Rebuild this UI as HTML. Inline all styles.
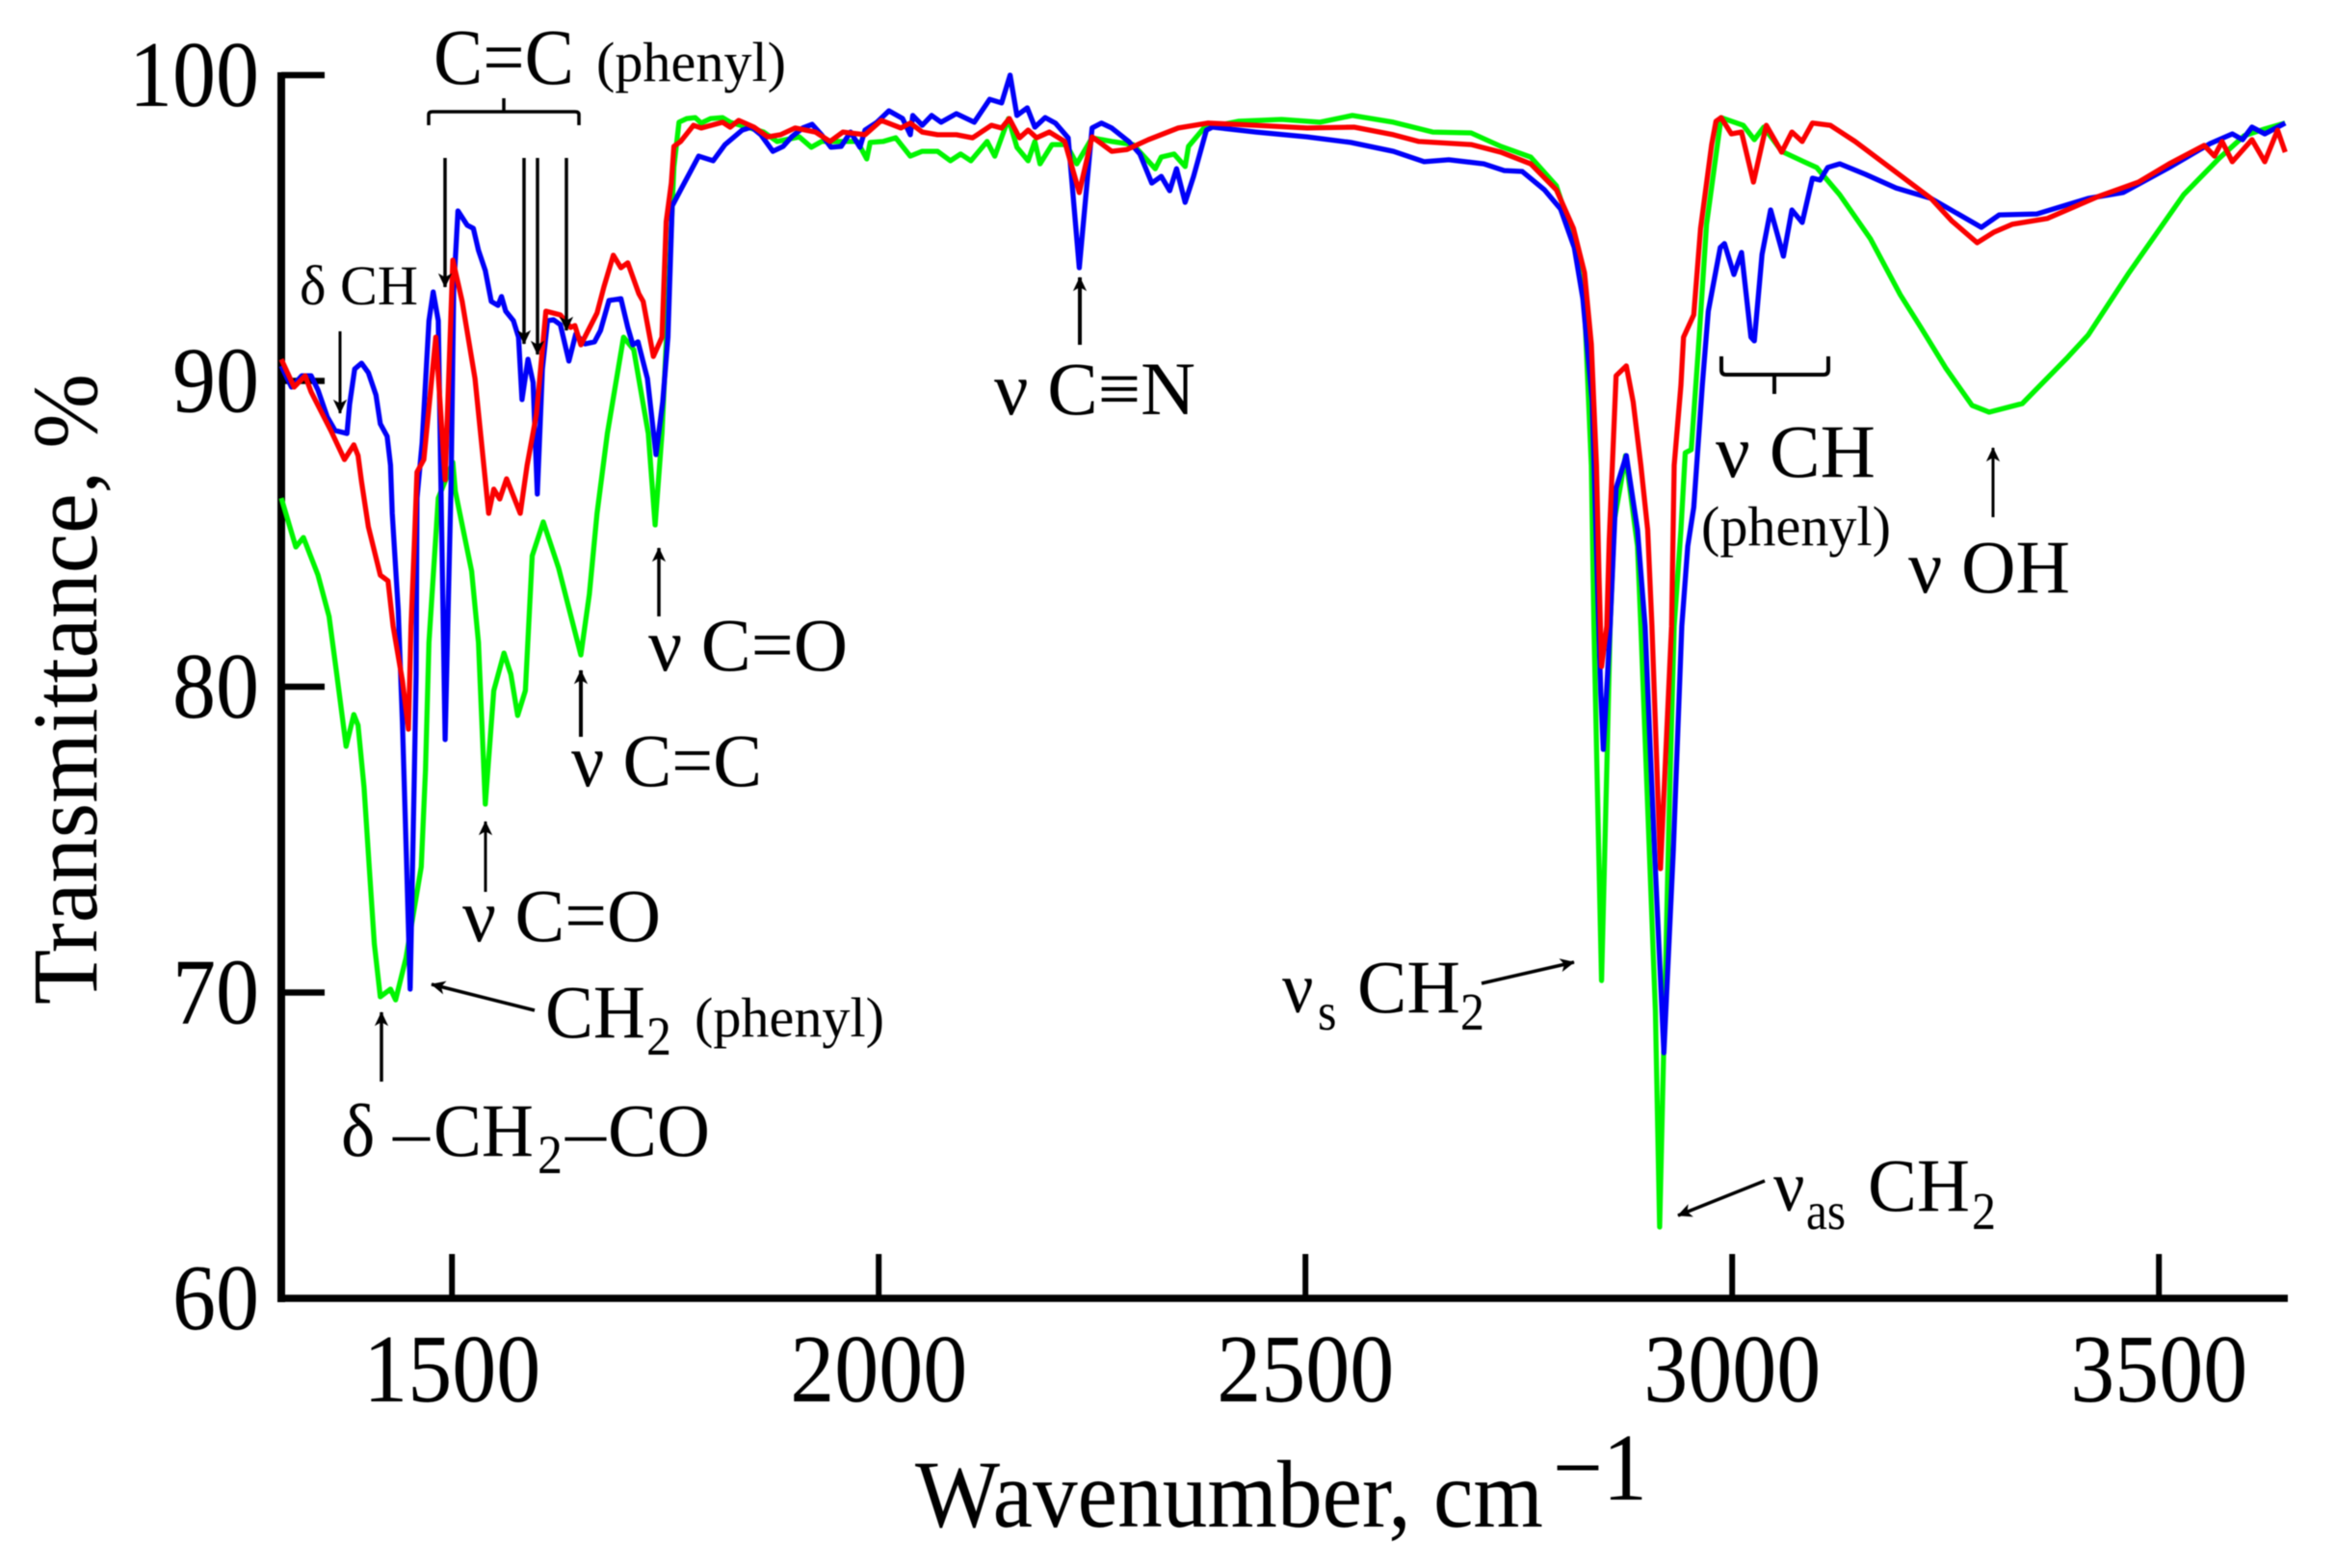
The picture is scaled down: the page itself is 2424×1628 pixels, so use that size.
<!DOCTYPE html>
<html lang="en">
<head>
<meta charset="utf-8">
<title>FTIR transmittance spectra</title>
<style>
html,body{margin:0;padding:0;background:#fff;}
body{width:2424px;height:1628px;overflow:hidden;}
svg{display:block;filter:blur(0.6px);}
text{font-family:"Liberation Serif","DejaVu Serif",serif;fill:#000;}
</style>
</head>
<body>
<svg id="chart" xmlns="http://www.w3.org/2000/svg" width="2424" height="1628" viewBox="0 0 2424 1628">
<defs>
<marker id="ah" markerUnits="userSpaceOnUse" markerWidth="19" markerHeight="19" refX="19" refY="10" orient="auto" viewBox="0 0 24 20">
<path d="M20 10 L1 1 L6 10 L1 19 Z" fill="#000"/>
</marker>
</defs>
<rect x="0" y="0" width="2424" height="1628" fill="#fff"/>
<g id="series-layer"></g>
<g id="axis-layer"></g>

<g>
<text transform="translate(100,1043) rotate(-90)" font-size="96" textLength="655" lengthAdjust="spacingAndGlyphs">Transmittance, %</text>
<text transform="translate(950,1585) scale(1,1.08)" font-size="92" textLength="652" lengthAdjust="spacingAndGlyphs">Wavenumber, cm</text>
<text transform="translate(1612,1557) scale(1,1.08)" font-size="92">&#8722;1</text>
</g>

<g stroke="none">
<text transform="translate(450,87) scale(1,1.07)" font-size="77" textLength="146" lengthAdjust="spacingAndGlyphs">C=C</text>
<text transform="translate(619,84)" font-size="58" textLength="197" lengthAdjust="spacingAndGlyphs">(phenyl)</text>
<path d="M445 130 V119 Q445 116 449 116 H597 Q601 116 601 119 V130 M523 116 V102" fill="none" stroke="#000" stroke-width="3.5"/>
<line x1="462" y1="164" x2="462" y2="298" stroke="#000" stroke-width="3.5" marker-end="url(#ah)"/>
<line x1="544" y1="164" x2="544" y2="357" stroke="#000" stroke-width="3.5" marker-end="url(#ah)"/>
<line x1="558" y1="164" x2="558" y2="368" stroke="#000" stroke-width="3.5" marker-end="url(#ah)"/>
<line x1="588" y1="164" x2="588" y2="343" stroke="#000" stroke-width="3.5" marker-end="url(#ah)"/>

<text transform="translate(311,316)" font-size="58" textLength="123" lengthAdjust="spacingAndGlyphs">&#948; CH</text>
<line x1="353" y1="344" x2="353" y2="429" stroke="#000" stroke-width="3" marker-end="url(#ah)"/>

<text transform="translate(673,696) scale(1,1.05)" font-size="75" textLength="207" lengthAdjust="spacingAndGlyphs">&#957; C=O</text>
<line x1="684" y1="640" x2="684" y2="569" stroke="#000" stroke-width="3.5" marker-end="url(#ah)"/>

<text transform="translate(593,816) scale(1,1.05)" font-size="75" textLength="198" lengthAdjust="spacingAndGlyphs">&#957; C=C</text>
<line x1="603" y1="765" x2="603" y2="696" stroke="#000" stroke-width="4" marker-end="url(#ah)"/>

<text transform="translate(480,977) scale(1,1.05)" font-size="75" textLength="206" lengthAdjust="spacingAndGlyphs">&#957; C=O</text>
<line x1="504" y1="926" x2="504" y2="853" stroke="#000" stroke-width="3" marker-end="url(#ah)"/>

<text transform="translate(566,1077) scale(1,1.05)" font-size="75" textLength="104" lengthAdjust="spacingAndGlyphs">CH</text>
<text transform="translate(671,1095) scale(1,1.1)" font-size="52">2</text>
<text transform="translate(721,1076)" font-size="58" textLength="197" lengthAdjust="spacingAndGlyphs">(phenyl)</text>
<line x1="555" y1="1049" x2="448" y2="1022" stroke="#000" stroke-width="3.5" marker-end="url(#ah)"/>

<line x1="396" y1="1123" x2="396" y2="1051" stroke="#000" stroke-width="3.5" marker-end="url(#ah)"/>
<text transform="translate(354,1200) scale(1,1.05)" font-size="75">&#948;</text>
<text transform="translate(408,1200)" font-size="75" textLength="38" lengthAdjust="spacingAndGlyphs">&#8211;</text>
<text transform="translate(450,1200) scale(1,1.05)" font-size="75" textLength="104" lengthAdjust="spacingAndGlyphs">CH</text>
<text transform="translate(558,1218) scale(1,1.1)" font-size="52">2</text>
<text transform="translate(587,1200)" font-size="75" textLength="42" lengthAdjust="spacingAndGlyphs">&#8211;</text>
<text transform="translate(631,1200) scale(1,1.05)" font-size="75" textLength="106" lengthAdjust="spacingAndGlyphs">CO</text>

<text transform="translate(1032,430) scale(1,1.05)" font-size="75" textLength="209" lengthAdjust="spacingAndGlyphs">&#957; C&#8801;N</text>
<line x1="1121" y1="358" x2="1121" y2="288" stroke="#000" stroke-width="4" marker-end="url(#ah)"/>

<path d="M1787 370 V384 Q1787 389 1792 389 H1893 Q1898 389 1898 384 V370 M1842 389 V409" fill="none" stroke="#000" stroke-width="4"/>
<text transform="translate(1781,495) scale(1,1.05)" font-size="75" textLength="166" lengthAdjust="spacingAndGlyphs">&#957; CH</text>
<text transform="translate(1766,566)" font-size="58" textLength="197" lengthAdjust="spacingAndGlyphs">(phenyl)</text>

<text transform="translate(1981,615) scale(1,1.05)" font-size="75" textLength="168" lengthAdjust="spacingAndGlyphs">&#957; OH</text>
<line x1="2069" y1="537" x2="2069" y2="465" stroke="#000" stroke-width="3" marker-end="url(#ah)"/>

<text transform="translate(1331,1051) scale(1,1.05)" font-size="72">&#957;</text>
<text transform="translate(1368,1069) scale(1,1.1)" font-size="50">s</text>
<text transform="translate(1409,1051) scale(1,1.05)" font-size="75" textLength="107" lengthAdjust="spacingAndGlyphs">CH</text>
<text transform="translate(1516,1069) scale(1,1.1)" font-size="50">2</text>
<line x1="1538" y1="1021" x2="1634" y2="999" stroke="#000" stroke-width="3.5" marker-end="url(#ah)"/>

<text transform="translate(1841,1257) scale(1,1.05)" font-size="72">&#957;</text>
<text transform="translate(1875,1276) scale(1,1.1)" font-size="50" textLength="41" lengthAdjust="spacingAndGlyphs">as</text>
<text transform="translate(1939,1257) scale(1,1.05)" font-size="75" textLength="106" lengthAdjust="spacingAndGlyphs">CH</text>
<text transform="translate(2047,1276) scale(1,1.1)" font-size="50">2</text>
<line x1="1832" y1="1226" x2="1742" y2="1262" stroke="#000" stroke-width="3.5" marker-end="url(#ah)"/>
</g>
</svg>

<script>
var yTickValues = [60, 70, 80, 90, 100];
var xTickValues = [1500, 2000, 2500, 3000, 3500];

var greenWavenumbers = [
1300,1317,1326,1343,1356,1365,1376,1385,1390,1397,
1403,1409,1416,1428,1434,1446,1464,1469,1473,1484,
1501,1504,1523,1531,1539,1549,1561,1569,1577,1586,
1594,1607,1625,1651,1661,1670,1682,1701,1713,1730,
1738,1746,1753,1760,1766,1775,1785,1792,1803,1817,
1826,1865,1881,1907,1921,1933,1975,1986,1990,2005,
2020,2037,2051,2069,2084,2096,2108,2127,2136,2152,
2162,2175,2183,2189,2203,2220,2232,2250,2273,2298,
2324,2331,2346,2359,2363,2381,2422,2472,2517,2555,
2603,2649,2694,2729,2764,2794,2815,2827,2835,2838,
2844,2847,2853,2857,2862,2869,2875,2889,2893,2910,
2915,2926,2932,2940,2945,2952,2960,2970,2987,3013,
3026,3037,3058,3084,3099,3126,3162,3197,3221,3250,
3281,3301,3340,3393,3417,3465,3529,3571,3600,3624,3648];
var greenTransmittance = [
86.17,84.57,84.88,83.65,82.30,80.41,78.05,79.09,78.74,76.72,
74.11,71.59,69.86,70.11,69.76,71.12,74.11,77.26,81.45,86.17,
87.34,86.39,83.78,81.45,76.16,79.87,81.10,80.41,79.06,79.87,
84.28,85.39,83.87,81.04,83.02,85.67,88.28,91.43,91.02,88.28,
85.29,88.28,92.47,97.00,98.46,98.58,98.61,98.43,98.58,98.61,
98.46,98.14,97.83,97.98,97.64,97.83,97.83,97.26,97.80,97.83,
97.95,97.35,97.51,97.51,97.20,97.42,97.20,97.83,97.35,98.58,
97.64,97.20,97.83,97.10,97.73,97.73,97.10,97.95,97.83,97.73,
96.94,97.32,97.42,97.01,97.67,98.27,98.49,98.55,98.46,98.68,
98.46,98.14,98.11,97.67,97.32,96.38,94.58,92.47,87.24,81.98,
74.11,70.39,77.26,81.98,85.45,86.55,87.56,84.60,81.98,69.39,
62.33,75.68,81.98,85.13,87.65,87.75,90.90,95.12,98.61,98.36,
97.89,98.30,97.51,97.17,96.98,96.09,94.65,92.82,91.75,90.43,
89.20,88.98,89.26,90.77,91.50,93.54,96.09,97.29,98.02,98.24,98.43];

var blueWavenumbers = [
1300,1312,1324,1335,1343,1354,1363,1377,1380,1386,
1394,1402,1411,1416,1424,1428,1430,1437,1442,1447,
1451,1456,1458,1459,1465,1473,1478,1484,1487,1492,
1499,1502,1507,1518,1525,1531,1539,1546,1554,1558,
1563,1572,1578,1582,1589,1595,1600,1606,1612,1619,
1627,1637,1645,1656,1667,1674,1684,1698,1706,1712,
1718,1729,1739,1747,1753,1758,1768,1789,1806,1820,
1840,1851,1862,1876,1888,1898,1911,1922,1933,1944,
1956,1967,1978,1984,1998,2012,2028,2037,2040,2051,
2062,2073,2091,2112,2130,2144,2154,2162,2174,2183,
2195,2207,2222,2235,2250,2261,2273,2293,2306,2320,
2331,2341,2349,2359,2369,2384,2391,2442,2502,2553,
2603,2639,2668,2709,2733,2754,2780,2799,2815,2825,
2836,2842,2846,2849,2854,2857,2864,2876,2889,2898,
2909,2920,2931,2941,2948,2955,2965,2972,2986,2991,
3002,3011,3022,3026,3035,3045,3060,3070,3082,3094,
3103,3112,3126,3156,3192,3233,3292,3313,3357,3417,
3458,3512,3560,3586,3598,3609,3624,3648];
var blueTransmittance = [
90.49,89.80,90.17,90.17,89.70,88.82,88.38,88.28,89.23,90.39,
90.58,90.27,89.54,88.60,88.19,87.24,85.67,82.52,78.80,74.11,
70.11,77.26,80.41,86.17,87.97,91.97,92.91,91.97,86.71,78.27,
86.71,93.00,95.56,95.09,94.99,94.27,93.61,92.60,92.47,92.76,
92.28,91.97,91.43,89.39,90.71,89.95,86.30,90.39,91.97,92.00,
91.84,90.65,91.53,91.21,91.28,91.65,92.63,92.69,91.75,91.18,
91.28,90.08,87.59,89.32,91.43,95.72,96.25,97.35,97.20,97.73,
98.20,98.30,98.05,97.51,97.67,97.98,98.27,98.39,98.05,97.64,
97.67,98.14,97.64,98.20,98.46,98.83,98.58,98.05,98.68,98.36,
98.68,98.46,98.74,98.46,99.21,99.09,100.00,98.68,98.93,98.30,
98.61,98.43,97.95,93.70,98.27,98.43,98.27,97.83,97.42,96.47,
96.69,96.22,96.94,95.84,96.69,98.20,98.30,98.14,97.98,97.80,
97.51,97.17,97.23,97.10,96.88,96.85,96.25,95.62,94.36,92.69,
89.32,83.56,79.78,77.95,80.41,81.98,86.49,87.56,85.13,81.98,
74.65,68.03,74.65,81.98,84.60,85.86,89.86,92.28,94.36,94.49,
93.48,94.20,91.43,91.31,94.14,95.59,94.08,95.59,95.18,96.63,
96.57,96.98,97.10,96.76,96.31,95.97,95.02,95.43,95.46,95.97,
96.16,96.98,97.76,98.08,97.89,98.30,98.08,98.43];

var redWavenumbers = [
1300,1315,1328,1335,1358,1374,1385,1390,1394,1402,
1416,1425,1431,1442,1449,1452,1456,1459,1467,1481,
1492,1501,1512,1527,1543,1549,1556,1564,1580,1588,
1599,1610,1627,1639,1644,1651,1670,1678,1689,1698,
1706,1719,1724,1736,1746,1751,1757,1760,1768,1783,
1792,1817,1826,1836,1854,1870,1885,1902,1926,1943,
1958,1984,2003,2026,2037,2051,2069,2091,2110,2132,
2144,2153,2165,2175,2185,2200,2218,2235,2250,2273,
2291,2316,2351,2386,2442,2502,2557,2603,2633,2694,
2729,2764,2794,2814,2827,2835,2841,2844,2847,2853,
2856,2864,2876,2884,2893,2901,2906,2916,2929,2932,
2940,2943,2955,2963,2976,2981,2987,2999,3011,3025,
3040,3058,3070,3082,3094,3115,3144,3179,3233,3257,
3287,3307,3328,3369,3429,3476,3512,3553,3565,3574,
3586,3609,3624,3639,3648];
var redTransmittance = [
90.71,89.80,90.17,89.64,88.38,87.43,87.91,87.56,86.71,85.23,
83.65,83.46,81.98,80.19,78.61,81.98,84.72,87.02,87.43,91.43,
86.77,93.95,92.60,90.08,85.67,86.46,86.14,86.80,85.67,87.24,
88.91,92.28,92.16,91.75,91.81,91.18,92.22,93.07,94.11,93.70,
93.86,92.85,92.60,90.80,91.43,95.21,96.47,97.67,97.83,98.36,
98.27,98.46,98.30,98.52,98.30,97.98,98.05,98.27,98.14,97.83,
98.14,98.05,98.52,98.27,98.43,98.14,98.05,98.05,97.95,98.36,
98.27,98.58,97.95,98.20,97.95,98.14,97.83,96.16,97.98,97.51,
97.57,97.89,98.27,98.43,98.36,98.27,98.30,98.05,97.83,97.73,
97.48,97.10,96.25,94.99,93.54,91.20,87.24,83.56,80.66,81.98,
84.82,90.17,90.49,89.32,87.24,85.13,81.98,74.05,81.98,87.24,
89.86,91.43,92.16,94.99,97.73,98.49,98.61,98.08,98.14,96.50,
98.36,97.48,98.14,97.83,98.43,98.36,97.83,97.10,95.97,95.24,
94.52,94.87,95.12,95.31,96.03,96.50,97.10,97.70,97.35,97.83,
97.17,97.89,97.17,98.20,97.48];

var SVG_NS = 'http://www.w3.org/2000/svg';
var axisX0 = 292;
var axisY100 = 78;
var axisY60 = 1348;
var axisRight = 2375;

function xScale(wavenumber) {
  return axisX0 + (wavenumber - 1300) * 0.886;
}
function yScale(percent) {
  return axisY100 + (100 - percent) * (axisY60 - axisY100) / 40;
}
function pointsFor(xs, ys) {
  var out = [];
  for (var i = 0; i < xs.length; i++) {
    out.push(xScale(xs[i]).toFixed(1) + ',' + yScale(ys[i]).toFixed(1));
  }
  return out.join(' ');
}

var seriesLayer = document.getElementById('series-layer');
var axisLayer = document.getElementById('axis-layer');

var greenLine = document.createElementNS(SVG_NS, 'polyline');


greenLine.setAttribute('points', pointsFor(greenWavenumbers, greenTransmittance));
greenLine.setAttribute('fill', 'none');
greenLine.setAttribute('stroke', '#00f500');
greenLine.setAttribute('stroke-width', '5.3');
greenLine.setAttribute('stroke-linejoin', 'round');
seriesLayer.appendChild(greenLine);

var blueLine = document.createElementNS(SVG_NS, 'polyline');


blueLine.setAttribute('points', pointsFor(blueWavenumbers, blueTransmittance));
blueLine.setAttribute('fill', 'none');
blueLine.setAttribute('stroke', '#0000f8');
blueLine.setAttribute('stroke-width', '5.3');
blueLine.setAttribute('stroke-linejoin', 'round');
seriesLayer.appendChild(blueLine);

var redLine = document.createElementNS(SVG_NS, 'polyline');


redLine.setAttribute('points', pointsFor(redWavenumbers, redTransmittance));
redLine.setAttribute('fill', 'none');
redLine.setAttribute('stroke', '#fa0000');
redLine.setAttribute('stroke-width', '5.3');
redLine.setAttribute('stroke-linejoin', 'round');
seriesLayer.appendChild(redLine);

var yAxisLine = document.createElementNS(SVG_NS, 'line');


yAxisLine.setAttribute('x1', axisX0);
yAxisLine.setAttribute('x2', axisX0);
yAxisLine.setAttribute('y1', axisY100 - 3);
yAxisLine.setAttribute('y2', axisY60 + 4);
yAxisLine.setAttribute('stroke', '#000');
yAxisLine.setAttribute('stroke-width', '8');
seriesLayer.parentNode.insertBefore(yAxisLine, seriesLayer);

var xAxisLine = document.createElementNS(SVG_NS, 'line');


xAxisLine.setAttribute('x1', axisX0 - 4);
xAxisLine.setAttribute('x2', axisRight);
xAxisLine.setAttribute('y1', axisY60);
xAxisLine.setAttribute('y2', axisY60);
xAxisLine.setAttribute('stroke', '#000');
xAxisLine.setAttribute('stroke-width', '7.5');
axisLayer.appendChild(xAxisLine);

yTickValues.forEach(function (value) {
  var y = yScale(value);
  if (value !== 60) {
    var tick = document.createElementNS(SVG_NS, 'line');
    
    
    tick.setAttribute('x1', axisX0);
    tick.setAttribute('x2', 337);
    tick.setAttribute('y1', y);
    tick.setAttribute('y2', y);
    tick.setAttribute('stroke', '#000');
    tick.setAttribute('stroke-width', '6.5');
    seriesLayer.parentNode.insertBefore(tick, seriesLayer);
  }
  var label = document.createElementNS(SVG_NS, 'text');
  
  
  label.setAttribute('transform', 'translate(269,' + (y + 32) + ') scale(1,1.08)');
  label.setAttribute('text-anchor', 'end');
  label.setAttribute('font-size', '90');
  label.textContent = value;
  axisLayer.appendChild(label);
});

xTickValues.forEach(function (value) {
  var x = xScale(value);
  var tick = document.createElementNS(SVG_NS, 'line');
  
  
  tick.setAttribute('x1', x);
  tick.setAttribute('x2', x);
  tick.setAttribute('y1', axisY60);
  tick.setAttribute('y2', 1302);
  tick.setAttribute('stroke', '#000');
  tick.setAttribute('stroke-width', '6');
  axisLayer.appendChild(tick);
  var label = document.createElementNS(SVG_NS, 'text');
  
  
  label.setAttribute('transform', 'translate(' + x + ',1455) scale(1,1.09)');
  label.setAttribute('text-anchor', 'middle');
  label.setAttribute('font-size', '92');
  label.textContent = value;
  axisLayer.appendChild(label);
});
</script>
</body>
</html>
